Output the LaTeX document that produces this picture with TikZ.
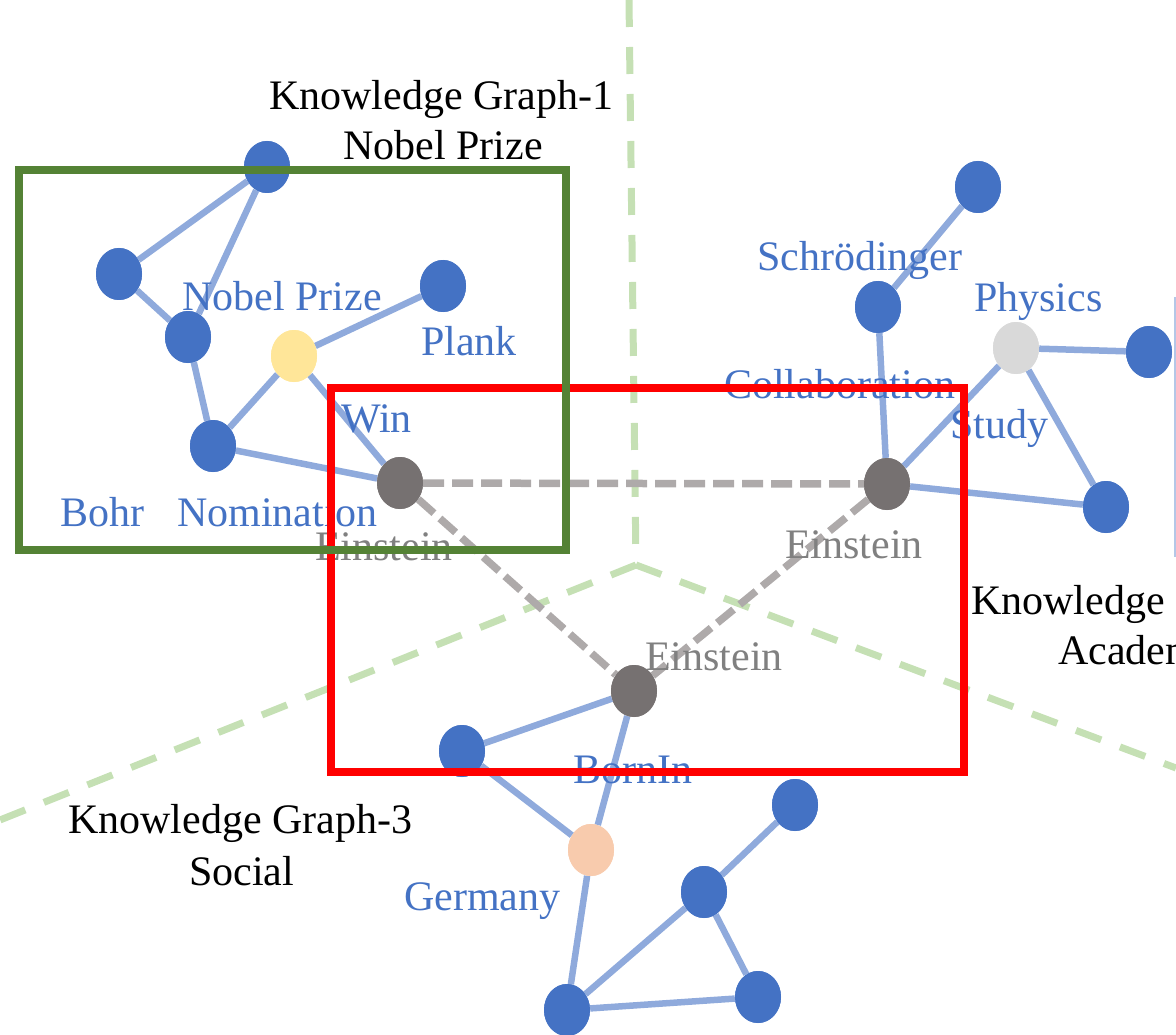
\documentclass[tikz,border=0pt]{standalone}
\usepackage{fontspec}
\setmainfont{Liberation Serif}
\usetikzlibrary{shapes.geometric}

\definecolor{nodeblue}{HTML}{4472C4}
\definecolor{edgeblue}{HTML}{8FAADC}
\definecolor{einsteingrey}{HTML}{767171}
\definecolor{physgrey}{HTML}{D9D9D9}
\definecolor{prizeyellow}{HTML}{FFE699}
\definecolor{peach}{HTML}{F8CBAD}
\definecolor{boxgreen}{HTML}{548235}
\definecolor{boxred}{HTML}{FF0000}
\definecolor{splitgreen}{HTML}{C5E0B4}
\definecolor{linkgrey}{HTML}{AEAAAA}
\definecolor{labelgrey}{HTML}{808080}
\definecolor{edgeline}{HTML}{B4C7E7}

\begin{document}
\begin{tikzpicture}[x=1pt,y=-1pt,
  ent/.style={ellipse, inner sep=0pt, minimum width=46pt, minimum height=52pt, fill=nodeblue},
  einst/.style={ent, fill=einsteingrey},
  rel/.style={draw=edgeblue, line width=6.5pt},
  same/.style={draw=linkgrey, line width=7.5pt, dash pattern=on 21pt off 8pt},
  split/.style={draw=splitgreen, line width=7pt, dash pattern=on 27pt off 20pt},
  txt/.style={inner sep=0pt, anchor=base west, font=\fontsize{42pt}{48pt}\selectfont},
  bluetxt/.style={txt, text=nodeblue},
  greytxt/.style={txt, text=labelgrey},
  title/.style={txt, text=black},
  frame/.style={line width=8pt}
]
\useasboundingbox (0,0) rectangle (1176,1035);
\clip (0,0) rectangle (1176,1035);

% partition of the three graphs
\coordinate (hub) at (636,565);
\coordinate (northend) at (629,0);
\coordinate (westend) at (0,820);
\coordinate (eastend) at (1176,768);
\draw[split] (northend) -- (hub);
\draw[split] (hub) -- (westend);
\draw[split] (hub) -- (eastend);

% thin edge on the right
\coordinate (rtop) at (1175,297);
\coordinate (rbot) at (1175,557);
\draw[draw=edgeline, line width=1.2pt] (rtop) -- (rbot);

% graph 1: Nobel Prize
\node[ent] (a1) at (267,167) {};
\node[ent] (b1) at (119,274) {};
\node[ent] (c1) at (188,337) {};
\node[ent, fill=prizeyellow] (prize) at (294,356) {};
\node[ent] (plank) at (443,286) {};
\node[ent] (bohr) at (213,446) {};
\node[einst] (e1) at (400,483) {};

% graph 2: Academic
\node[ent] (a2) at (978,187) {};
\node[ent] (schr) at (878,307) {};
\node[ent, fill=physgrey] (phys) at (1016,348) {};
\node[ent] (b2) at (1149,352) {};
\node[ent] (c2) at (1106,507) {};
\node[einst] (e2) at (887,484) {};

% graph 3: Social
\node[einst] (e3) at (634,691) {};
\node[ent] (a3) at (462,751) {};
\node[ent, fill=peach] (germ) at (591,850) {};
\node[ent] (b3) at (795,805) {};
\node[ent] (c3) at (704,892) {};
\node[ent] (d3) at (567,1010) {};
\node[ent] (f3) at (758,997) {};

% links between the copies of the same entity
\draw[same] (e1) -- (e2);
\draw[same] (e1) -- (e3);
\draw[same] (e2) -- (e3);

% relations
\draw[rel] (a1) -- (b1);
\draw[rel] (a1) -- (c1);
\draw[rel] (b1) -- (c1);
\draw[rel] (c1) -- (bohr);
\draw[rel] (bohr) -- (prize);
\draw[rel] (prize) -- (plank);
\draw[rel] (prize) -- (e1);
\draw[rel] (bohr) -- (e1);

\draw[rel] (a2) -- (schr);
\draw[rel] (schr) -- (e2);
\draw[rel] (e2) -- (phys);
\draw[rel] (phys) -- (b2);
\draw[rel] (phys) -- (c2);
\draw[rel] (e2) -- (c2);

\draw[rel] (e3) -- (a3);
\draw[rel] (a3) -- (germ);
\draw[rel] (e3) -- (germ);
\draw[rel] (germ) -- (d3);
\draw[rel] (d3) -- (c3);
\draw[rel] (c3) -- (b3);
\draw[rel] (c3) -- (f3);
\draw[rel] (d3) -- (f3);

% repaint the entity discs above the edge ends
\foreach \n/\c in {a1/nodeblue,b1/nodeblue,c1/nodeblue,prize/prizeyellow,plank/nodeblue,bohr/nodeblue,e1/einsteingrey,
                   a2/nodeblue,schr/nodeblue,phys/physgrey,b2/nodeblue,c2/nodeblue,e2/einsteingrey,
                   e3/einsteingrey,a3/nodeblue,germ/peach,b3/nodeblue,c3/nodeblue,d3/nodeblue,f3/nodeblue}
  \fill[\c] (\n.center) ellipse [x radius=23pt, y radius=26pt];

% labels
\node[title] (kg1) at (269,110) {Knowledge Graph-1};
\node[title] (kg1b) at (343,160) {Nobel Prize};
\node[bluetxt] (lprize) at (182,311) {Nobel Prize};
\node[bluetxt] (lplank) at (421,355) {Plank};
\node[bluetxt] (lwin) at (341,432) {Win};
\node[bluetxt] (lbohr) at (60,526) {Bohr};
\node[bluetxt] (lnom) at (177,526) {Nomination};
\node[greytxt] (le1) at (315,560) {Einstein};

\node[bluetxt] (lschr) at (757,271) {Schrödinger};
\node[bluetxt] (lphys) at (974,312) {Physics};
\node[bluetxt] (lcoll) at (724,398) {Collaboration};
\node[bluetxt] (lstudy) at (950,438) {Study};
\node[greytxt] (le2) at (785,558) {Einstein};
\node[title] (kg2) at (971,614) {Knowledge Graph-2};
\node[title] (kg2b) at (1058,664) {Academic};

\node[greytxt] (le3) at (645,670) {Einstein};
\node[bluetxt] (lborn) at (573,783) {BornIn};
\node[bluetxt] (lgerm) at (404,910) {Germany};
\node[title] (kg3) at (68,833) {Knowledge Graph-3};
\node[title] (kg3b) at (189,885) {Social};

% highlight frames
\draw[frame, draw=boxred] (331,388) rectangle (964,772);
\draw[frame, draw=boxgreen] (19,170) rectangle (566,550);
\end{tikzpicture}
\end{document}
